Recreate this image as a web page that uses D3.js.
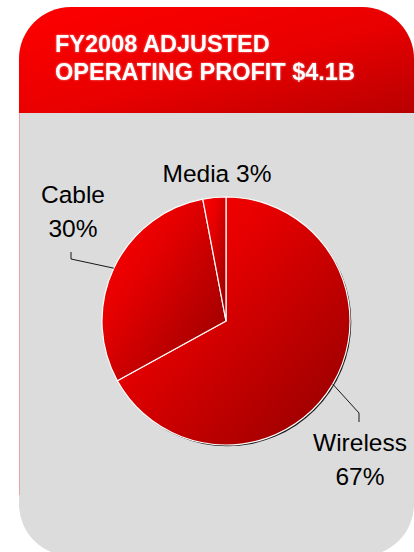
<!DOCTYPE html>
<html>
<head>
<meta charset="utf-8">
<script src="https://cdn.jsdelivr.net/npm/d3@7/dist/d3.min.js"></script>
<style>
  html, body { margin: 0; padding: 0; background: #fff; }
  svg { display: block; }
</style>
</head>
<body>
<svg id="chart" width="414" height="552"></svg>
<script>
// Segment data
const categories = ["Wireless", "Cable", "Media"];
const shares = [67, 30, 3];
const titleLines = ["FY2008 ADJUSTED", "OPERATING PROFIT $4.1B"];

const W = 414, H = 552;
const svg = d3.select("#chart");
const defs = svg.append("defs");

// Panel shape: rounded card, red header over grey body
const panel = { x: 19, y: 7, w: 395, h: 549, r: 52 };
const headerBottom = 113;

const hg = defs.append("linearGradient").attr("id", "hdr")
  .attr("x1", 0).attr("y1", 0).attr("x2", 1).attr("y2", 1);
hg.append("stop").attr("offset", "0%").attr("stop-color", "#ff0000");
hg.append("stop").attr("offset", "55%").attr("stop-color", "#e80000");
hg.append("stop").attr("offset", "100%").attr("stop-color", "#b80000");

defs.append("clipPath").attr("id", "panelClip")
  .append("rect")
  .attr("x", panel.x).attr("y", panel.y)
  .attr("width", panel.w).attr("height", panel.h)
  .attr("rx", panel.r).attr("ry", panel.r);

const card = svg.append("g").attr("clip-path", "url(#panelClip)");
card.append("rect")
  .attr("x", panel.x).attr("y", panel.y)
  .attr("width", panel.w).attr("height", panel.h)
  .attr("fill", "#dcdcdc");
card.append("rect")
  .attr("x", panel.x).attr("y", panel.y)
  .attr("width", panel.w).attr("height", headerBottom - panel.y)
  .attr("fill", "url(#hdr)");
// faint red edge down the left side of the body
card.append("line")
  .attr("x1", panel.x + 0.5).attr("x2", panel.x + 0.5)
  .attr("y1", headerBottom).attr("y2", 495)
  .attr("stroke", "#e6a6a6").attr("stroke-width", 1);

// Title with a soft glow
const glow = defs.append("filter").attr("id", "glow")
  .attr("x", "-5%").attr("y", "-20%").attr("width", "110%").attr("height", "140%");
glow.append("feGaussianBlur").attr("in", "SourceAlpha").attr("stdDeviation", 0.8).attr("result", "b");
glow.append("feFlood").attr("flood-color", "#ffd0d0").attr("flood-opacity", 0.6);
glow.append("feComposite").attr("in2", "b").attr("operator", "in").attr("result", "g");
const gm = glow.append("feMerge");
gm.append("feMergeNode").attr("in", "g");
gm.append("feMergeNode").attr("in", "SourceGraphic");

const title = svg.append("text")
  .attr("font-family", "Liberation Sans, Arial, sans-serif")
  .attr("font-weight", "bold")
  .attr("font-size", 23.5)
  .attr("fill", "#ffffff")
  .attr("filter", "url(#glow)");
title.selectAll("tspan").data(titleLines).join("tspan")
  .attr("x", 55)
  .attr("y", (d, i) => 52 + i * 28)
  .text(d => d);

// Pie
const cx = 226, cy = 321, R = 124;
const pie = d3.pie().sort(null).value(d => d.value);
const arcs = pie(categories.map((c, i) => ({ name: c, value: shares[i] })));
const arc = d3.arc().innerRadius(0).outerRadius(R);

arcs.forEach((a, i) => {
  const g = defs.append("linearGradient").attr("id", "sl" + i)
    .attr("x1", 0).attr("y1", 0).attr("x2", 1).attr("y2", 1);
  g.append("stop").attr("offset", "0%").attr("stop-color", "#ff0000");
  g.append("stop").attr("offset", "35%").attr("stop-color", "#e60000");
  g.append("stop").attr("offset", "100%").attr("stop-color", "#900000");
});

const pg = svg.append("g").attr("transform", `translate(${cx},${cy})`);
// dark rim shadow along the lower right
pg.append("circle")
  .attr("cx", 1.3).attr("cy", 1.3).attr("r", R)
  .attr("fill", "#1a1a1a");
pg.selectAll("path.slice").data(arcs).join("path")
  .attr("class", "slice")
  .attr("d", arc)
  .attr("fill", (d, i) => `url(#sl${i})`)
  .attr("stroke", "#ffffff")
  .attr("stroke-width", 1.2)
  .attr("stroke-linejoin", "round");

// Labels
const font = "Liberation Sans, Arial, sans-serif";
const edge = d3.arc().innerRadius(R).outerRadius(R);
const labelSpec = {
  Wireless: { multi: true, x: 360, y: 451, leader: [[359, 413], [359, 422]] },
  Cable: { multi: true, x: 73, y: 203, leader: [[71, 259], [71, 252]] },
  Media: { multi: false, x: 217, y: 182, leader: null }
};

arcs.forEach(a => {
  const spec = labelSpec[a.data.name];
  const lines = spec.multi
    ? [a.data.name, `${a.data.value}%`]
    : [`${a.data.name} ${a.data.value}%`];
  const t = svg.append("text")
    .attr("font-family", font)
    .attr("font-size", 24.5)
    .attr("fill", "#000")
    .attr("text-anchor", "middle");
  t.selectAll("tspan").data(lines).join("tspan")
    .attr("x", spec.x)
    .attr("y", (d, i) => spec.y + i * 34)
    .text(d => d);
  if (spec.leader) {
    const p = edge.centroid(a);
    const pts = [[cx + p[0], cy + p[1]], ...spec.leader];
    svg.append("path")
      .attr("d", d3.line()(pts))
      .attr("fill", "none")
      .attr("stroke", "#000")
      .attr("stroke-width", 0.9);
  }
});
</script>
</body>
</html>
